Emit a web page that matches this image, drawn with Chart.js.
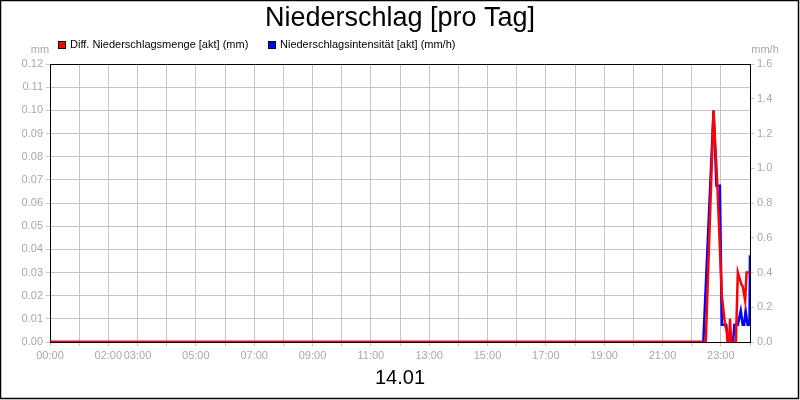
<!DOCTYPE html>
<html>
<head>
<meta charset="utf-8">
<script src="https://cdn.jsdelivr.net/npm/chart.js@4.4.1/dist/chart.umd.min.js"></script>
<style>
    html, body { margin: 0; padding: 0; background: #fff; }
    #wrap { width: 800px; height: 400px; }
</style>
</head>
<body>
<div id="wrap"><canvas id="chart" width="800" height="400"></canvas></div>
<script>
// Niederschlag chart data

const titel = 'Niederschlag [pro Tag]';
const datum = '14.01';
const mengeLabel = 'Diff. Niederschlagsmenge [akt] (mm)';
const intensLabel = 'Niederschlagsintensität [akt] (mm/h)';

// Diff. Niederschlagsmenge (mm), left axis
const mengeZeit  = ['00:00', '22:29', '22:45', '22:53', '23:02', '23:09', '23:12', '23:14', '23:17', '23:19', '23:21', '23:31', '23:35', '23:42', '23:45', '23:50', '23:53', '24:00'];
const mengeWerte = [0, 0, 0.100, 0.067, 0.020, 0.007, 0.005, 0, 0, 0.010, 0, 0, 0.030, 0.025, 0.024, 0.018, 0.030, 0.030];

// Niederschlagsintensität (mm/h), right axis
const intensZeit  = ['00:00', '22:24', '22:45', '22:51', '22:58', '23:02', '23:11', '23:15', '23:25', '23:28', '23:35', '23:41', '23:45', '23:48', '23:51', '23:55', '23:59', '24:00'];
const intensWerte = [0, 0, 1.33, 0.9, 0.9, 0.1, 0.1, 0, 0, 0.1, 0.1, 0.18, 0.1, 0.1, 0.18, 0.1, 0.1, 0.5];

const xBeschriftung = ['00:00', '02:00', '03:00', '05:00', '07:00', '09:00', '11:00', '13:00', '15:00', '17:00', '19:00', '21:00', '23:00'];

const tickGrau = '#a8a8a8';
const gitterGrau = '#c4c4c4';

function toMin(s) {
    const p = s.split(':');
    return parseInt(p[0], 10) * 60 + parseInt(p[1], 10);
}

function zuPunkten(zeiten, werte) {
    return zeiten.map((z, i) => ({ x: toMin(z), y: werte[i] }));
}

function hhmm(min) {
    const h = Math.floor(min / 60), m = min % 60;
    return String(h).padStart(2, '0') + ':' + String(m).padStart(2, '0');
}

Chart.defaults.font.family = '"Liberation Sans", Arial, sans-serif';

// frame, legend, units and outer border
const rahmenPlugin = {
    id: 'rahmen',
    beforeDatasetsDraw(chart) {
        const a = chart.chartArea, ctx = chart.ctx;
        ctx.save();
        ctx.strokeStyle = '#000';
        ctx.lineWidth = 1;
        ctx.strokeRect(Math.round(a.left) + 0.5, Math.round(a.top) + 0.5,
            Math.round(a.right - a.left), Math.round(a.bottom - a.top));
        ctx.restore();
    },
    afterDraw(chart) {
        const ctx = chart.ctx;
        ctx.save();
        // legend
        ctx.font = '11px "Liberation Sans", Arial, sans-serif';
        ctx.textBaseline = 'middle';
        ctx.textAlign = 'left';
        const eintraege = [
            { x: 58, ds: chart.data.datasets[0] },
            { x: 268, ds: chart.data.datasets[1] }
        ];
        eintraege.forEach(e => {
            ctx.fillStyle = e.ds.borderColor;
            ctx.fillRect(e.x, 41, 8, 8);
            ctx.strokeStyle = '#000';
            ctx.lineWidth = 1;
            ctx.strokeRect(e.x + 0.5, 41.5, 7, 7);
            ctx.fillStyle = '#000';
            ctx.fillText(e.ds.label, e.x + 12, 45);
        });
        // axis units
        ctx.fillStyle = tickGrau;
        ctx.textAlign = 'center';
        ctx.fillText('mm', 40, 50);
        ctx.fillText('mm/h', 765, 50);
        // outer border
        ctx.strokeStyle = '#000';
        ctx.lineWidth = 1.5;
        ctx.strokeRect(0.5, 0.5, 798, 398);
        ctx.restore();
    }
};

const ctx = document.getElementById('chart').getContext('2d');
const chart = new Chart(ctx, {
    type: 'line',
    data: {
        datasets: [
            {
                label: mengeLabel,
                data: zuPunkten(mengeZeit, mengeWerte),
                borderColor: '#ff0000',
                backgroundColor: '#ff0000',
                borderWidth: 2.5,
                pointRadius: 0,
                tension: 0,
                yAxisID: 'y'
            },
            {
                label: intensLabel,
                data: zuPunkten(intensZeit, intensWerte),
                borderColor: '#0000ff',
                backgroundColor: '#0000ff',
                borderWidth: 2.5,
                pointRadius: 0,
                tension: 0,
                yAxisID: 'y1'
            }
        ]
    },
    options: {
        responsive: false,
        maintainAspectRatio: false,
        animation: false,
        devicePixelRatio: 1,
        layout: { padding: 0 },
        plugins: {
            legend: { display: false },
            tooltip: { enabled: false },
            title: {
                display: true,
                text: titel,
                color: '#000',
                font: { size: 27, weight: 'normal' },
                padding: { top: 2, bottom: 64 - 2 - 32.4 }
            }
        },
        scales: {
            x: {
                type: 'linear',
                min: 0,
                max: 1440,
                afterBuildTicks: (scale) => {
                    const t = [];
                    for (let h = 0; h <= 24; h++) t.push({ value: h * 60 });
                    scale.ticks = t;
                },
                afterFit: (scale) => { scale.height = 58; },
                ticks: {
                    color: tickGrau,
                    font: { size: 11 },
                    padding: 3,
                    autoSkip: false,
                    maxRotation: 0,
                    callback: (v) => {
                        const s = hhmm(v);
                        return xBeschriftung.includes(s) ? s : '';
                    }
                },
                grid: { color: gitterGrau, tickColor: gitterGrau, tickLength: 4, lineWidth: 1 },
                border: { color: '#000', width: 1 },
                title: {
                    display: true,
                    text: datum,
                    color: '#000',
                    font: { size: 20 },
                    padding: { top: 0, bottom: 10 }
                }
            },
            y: {
                type: 'linear',
                position: 'left',
                min: 0,
                max: 0.12,
                afterFit: (scale) => { scale.width = 50; },
                ticks: {
                    stepSize: 0.01,
                    color: tickGrau,
                    font: { size: 11 },
                    padding: 3,
                    callback: (v) => v.toFixed(2)
                },
                grid: { color: gitterGrau, tickColor: gitterGrau, tickLength: 4 },
                border: { color: '#000', width: 1 }
            },
            y1: {
                type: 'linear',
                position: 'right',
                min: 0,
                max: 1.6,
                afterFit: (scale) => { scale.width = 50; },
                ticks: {
                    stepSize: 0.2,
                    color: tickGrau,
                    font: { size: 11 },
                    padding: 3,
                    callback: (v) => v.toFixed(1)
                },
                grid: { drawOnChartArea: false, color: gitterGrau, tickColor: gitterGrau, tickLength: 4 },
                border: { color: '#000', width: 1 }
            }
        }
    },
    plugins: [rahmenPlugin]
});
</script>
</body>
</html>
